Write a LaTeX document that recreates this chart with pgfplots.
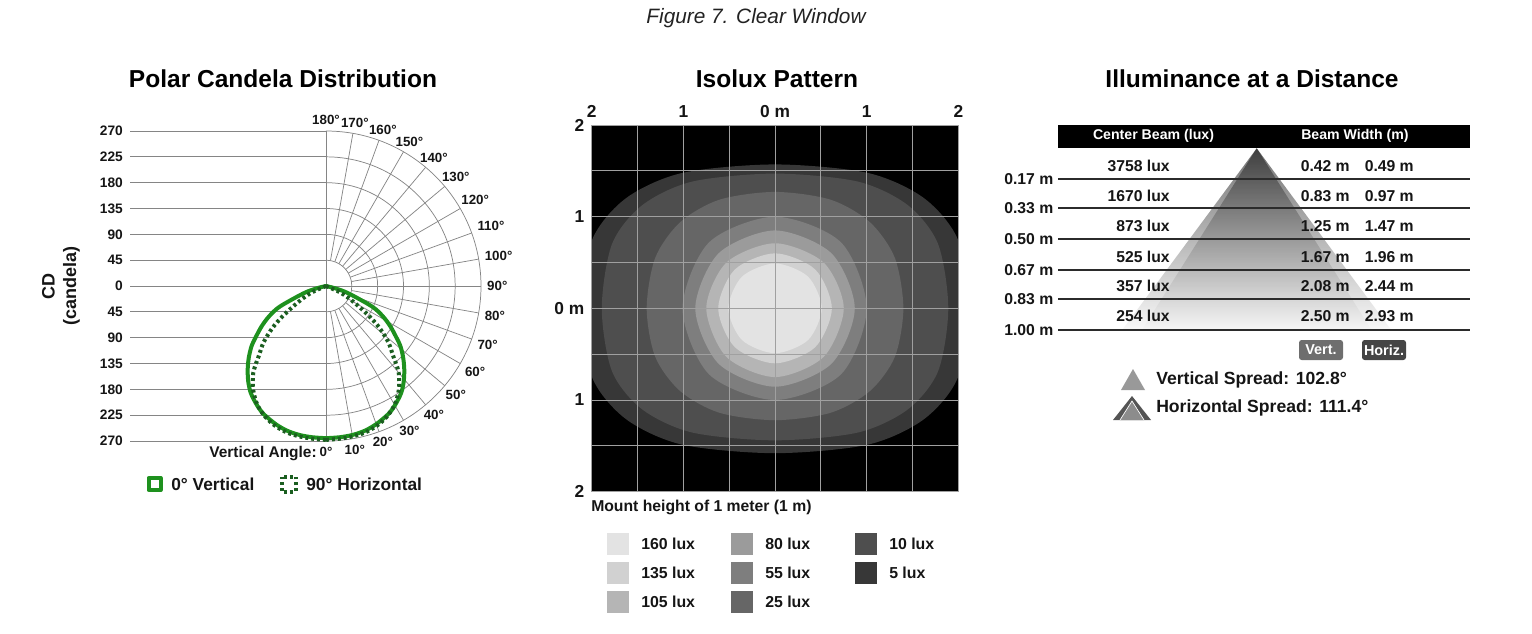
\documentclass[border=0pt]{standalone}
\usepackage{fontspec}
\setmainfont{Liberation Sans}
\usepackage{pgfplots}
\pgfplotsset{compat=1.18}
\usepackage{pgfplotstable}
\newcommand{\fsz}[1]{\fontsize{#1}{\fpeval{1.2*#1}}\selectfont}
\definecolor{ink}{HTML}{151515}
\definecolor{capc}{HTML}{222222}
\definecolor{pgridc}{HTML}{858585}
\definecolor{vgreen}{RGB}{30,145,30}
\definecolor{hgreen}{RGB}{27,94,32}
\definecolor{isogrid}{HTML}{A0A0A0}
\definecolor{c160}{HTML}{E3E3E3}
\definecolor{c135}{HTML}{D1D1D1}
\definecolor{c105}{HTML}{B5B5B5}
\definecolor{c80}{HTML}{9B9B9B}
\definecolor{c55}{HTML}{7E7E7E}
\definecolor{c25}{HTML}{666666}
\definecolor{c10}{HTML}{4E4E4E}
\definecolor{c5}{HTML}{373737}
\definecolor{tline}{HTML}{2B2B2B}

% candela vs angle from nadir (deg), mirrored on both sides
\pgfplotstableread{
t r
78 0
76 17
72 41
66 88
62 112
58 132
54 151
51 167
47 184
43 200
39 215
35 228
30 240
26 248
20 256
15 261
10 263.5
5 264.5
0 265
}\vertdata
\pgfplotstableread{
t r
70 0
66 25
62 45
58 68
55 93
52 118
48 146
44 168
40 197
35 221
30 239
25 251
20 259
15 264
10 266
5 267
0 268
}\horizdata

\tikzset{
  pgrid/.style={draw=pgridc,line width=0.55pt},
  vcurve/.style={draw=vgreen,line width=3pt,line cap=round,line join=round},
  hcurve/.style={draw=hgreen,line width=3pt,dash pattern=on 2.2pt off 2.2pt},
}

\begin{document}
\begin{tikzpicture}[x=0.75pt,y=0.75pt]
\useasboundingbox (0,0) rectangle (1532,-633);
\coordinate (polarNW) at (130.2,-131);
\coordinate (isoNW) at (591.7,-125);
\coordinate (illNW) at (1058,-148.3);

\node[font=\itshape\fsz{15.6},text=capc] at (756,-18) {Figure 7. Clear Window};
\node[font=\bfseries\fsz{18.4}] at (283,-79) {Polar Candela Distribution};
\node[font=\bfseries\fsz{18.4}] at (777,-79) {Isolux Pattern};
\node[font=\bfseries\fsz{18.4}] at (1252,-79) {Illuminance at a Distance};

% ---------------- polar candela ----------------
\begin{axis}[
  at={(polarNW)},anchor=north west,
  x=0.4306pt,y=0.4306pt,
  xmin=-341,xmax=300,ymin=-270,ymax=270,
  clip=false,
  axis line style={draw=none},tick style={draw=none},
  xtick=\empty,
  ytick={-270,-225,...,270},
  yticklabels={270,225,180,135,90,45,0,45,90,135,180,225,270},
  yticklabel style={font=\bfseries\fsz{10.3},text=ink,xshift=-2pt},
]
\pgfplotsinvokeforeach{-270,-225,...,270}{\draw[pgrid] (axis cs:-341,#1) -- (axis cs:0,#1);}
\draw[pgrid] (axis cs:0,0) -- (axis cs:270,0);
\draw[pgrid] (axis cs:0,-270) -- (axis cs:0,270);
\pgfplotsinvokeforeach{45,90,...,270}{\draw[pgrid] (axis cs:0,-#1) arc[start angle=-90,end angle=90,radius=#1*0.4306pt];}
\pgfplotsinvokeforeach{10,20,...,170}{\draw[pgrid] (axis cs:{45*cos(#1-90)},{45*sin(#1-90)}) -- (axis cs:{270*cos(#1-90)},{270*sin(#1-90)});}
\coordinate (pc) at (axis cs:0,0);
\addplot[vcurve,data cs=polar,smooth] table[x expr=\thisrow{t}-90,y=r] {\vertdata};
\addplot[vcurve,data cs=polar,smooth] table[x expr=-90-\thisrow{t},y=r] {\vertdata};
\addplot[hcurve,data cs=polar,smooth] table[x expr=\thisrow{t}-90,y=r] {\horizdata};
\addplot[hcurve,data cs=polar,smooth] table[x expr=-90-\thisrow{t},y=r] {\horizdata};
\end{axis}
\foreach \a in {0,10,...,180}{
  \pgfmathtruncatemacro\an{\a+90}
  \node[anchor=\an,inner sep=1pt,font=\bfseries\fsz{10},text=ink] at ([shift={(\a-90:119.7pt)}]pc) {\a°};
}
\node[anchor=base east,inner sep=0pt,font=\bfseries\fsz{11.6},text=ink] at (317,-457) {Vertical Angle:};
\node[rotate=90,align=center,font=\bfseries\fsz{13.5},text=ink] at (61,-286) {CD\\(candela)};
\draw[vcurve,line cap=butt] (148.5,-478) rectangle (160.5,-490);
\node[anchor=west,inner sep=0pt,font=\bfseries\fsz{13},text=ink] at (171,-484) {0° Vertical};
\draw[hcurve] (281.5,-476.5) rectangle (295.5,-491.5);
\node[anchor=west,inner sep=0pt,font=\bfseries\fsz{13},text=ink] at (306,-484) {90° Horizontal};

% ---------------- isolux ----------------
\begin{axis}[
  at={(isoNW)},anchor=north west,
  x=68.75pt,y=68.75pt,
  xmin=-2,xmax=2,ymin=-2,ymax=2,
  axis on top,
  axis background/.style={fill=black},
  axis line style={draw=isogrid,line width=0.6pt},
  xtick={-2,-1,0,1,2},xticklabels={2,1,0 m,1,2},xticklabel pos=upper,
  ytick={-2,-1,0,1,2},yticklabels={2,1,0 m,1,2},
  minor xtick={-1.5,-0.5,0.5,1.5},minor ytick={-1.5,-0.5,0.5,1.5},
  grid=both,
  major grid style={draw=isogrid,line width=0.6pt},
  minor grid style={draw=isogrid,line width=0.6pt},
  major tick length=0pt,minor tick length=0pt,
  ticklabel style={font=\bfseries\fsz{13},text=ink},
  xticklabel style={yshift=2pt},yticklabel style={xshift=-2pt},
]
\addplot[fill=c5,draw=none,smooth cycle] coordinates {
(2.12,0) (1.995,0.750) (1.624,1.203) (1.013,1.477) (0,1.57) (-1.013,1.477) (-1.624,1.203) (-1.995,0.750)
(-2.12,0) (-1.995,-0.755) (-1.624,-1.210) (-1.013,-1.487) (0,-1.58) (1.013,-1.487) (1.624,-1.210) (1.995,-0.755)};
\addplot[fill=c10,draw=none,smooth cycle] coordinates {
(1.89,0) (1.778,0.703) (1.448,1.126) (0.903,1.383) (0,1.47) (-0.903,1.383) (-1.448,1.126) (-1.778,0.703)
(-1.89,0) (-1.778,-0.688) (-1.448,-1.103) (-0.903,-1.355) (0,-1.44) (0.903,-1.355) (1.448,-1.103) (1.778,-0.688)};
\addplot[fill=c25,draw=none,smooth cycle] coordinates {
(1.40,0) (1.307,0.551) (1.036,0.939) (0.607,1.185) (0,1.27) (-0.607,1.185) (-1.036,0.939) (-1.307,0.551)
(-1.40,0) (-1.307,-0.529) (-1.036,-0.902) (-0.607,-1.139) (0,-1.22) (0.607,-1.139) (1.036,-0.902) (1.307,-0.529)};
\addplot[fill=c55,draw=none,smooth cycle] coordinates {
(1.0,0) (0.72,0.72) (0,1.0) (-0.72,0.72) (-1.01,0) (-0.72,-0.72) (0,-1.0) (0.72,-0.72)};
\addplot[fill=c80,draw=none,smooth cycle] coordinates {
(0.87,0) (0.615,0.601) (0,0.85) (-0.615,0.601) (-0.87,0) (-0.615,-0.605) (0,-0.855) (0.615,-0.605)};
\addplot[fill=c105,draw=none,smooth cycle] coordinates {
(0.75,0) (0.53,0.50) (0,0.71) (-0.53,0.50) (-0.75,0) (-0.53,-0.53) (0,-0.75) (0.53,-0.53)};
\addplot[fill=c135,draw=none,smooth cycle] coordinates {
(0.62,0) (0.438,0.424) (0,0.60) (-0.438,0.424) (-0.62,0) (-0.438,-0.424) (0,-0.60) (0.438,-0.424)};
\addplot[fill=c160,draw=none,smooth cycle] coordinates {
(0.51,0) (0.36,0.346) (0,0.49) (-0.36,0.346) (-0.51,0) (-0.36,-0.346) (0,-0.49) (0.36,-0.346)};
\end{axis}
\node[anchor=west,inner sep=0pt,font=\bfseries\fsz{11.8},text=ink] at (591,-507) {Mount height of 1 meter (1 m)};
\foreach \c/\t/\x/\y in {c160/160/607/544,c135/135/607/573,c105/105/607/602,
  c80/80/731/544,c55/55/731/573,c25/25/731/602,c10/10/855/544,c5/5/855/573}{
  \fill[\c] (\x,-\y+11) rectangle ++(22,-22);
  \node[anchor=west,inner sep=0pt,font=\bfseries\fsz{11.9},text=ink] at (\x+34,-\y) {\t\ lux};
}

% ---------------- illuminance at a distance ----------------
\begin{axis}[
  at={(illNW)},anchor=north west,
  x=69pt,y=136.5pt,
  xmin=-2.16,xmax=2.318,ymin=-1,ymax=0,
  clip=false,axis on top,
  axis line style={draw=none},tick style={draw=none},
  xtick=\empty,
  ytick={-1,-0.83,-0.67,-0.5,-0.33,-0.17},
  yticklabels={1.00 m,0.83 m,0.67 m,0.50 m,0.33 m,0.17 m},
  ymajorgrids,major grid style={draw=tline,line width=1.5pt},
  yticklabel style={font=\bfseries\fsz{11.8},text=ink},
]
\fill[black] (axis cs:-2.16,0) rectangle (axis cs:2.318,0.126);
\addplot[draw=none,top color=black!90,middle color=black!55,bottom color=black!4,fill opacity=0.6] coordinates {(0,0) (-1.465,-1) (1.465,-1)} --cycle;
\addplot[draw=none,top color=black!90,middle color=black!55,bottom color=black!4,fill opacity=0.6] coordinates {(0,0) (-1.25,-1) (1.25,-1)} --cycle;
\node[text=white,font=\bfseries\fsz{10.6}] at (axis cs:-1.122,0.066) {Center Beam (lux)};
\node[text=white,font=\bfseries\fsz{10.6}] at (axis cs:1.068,0.066) {Beam Width (m)};
\end{axis}
\foreach \yy/\l/\v/\h in {166/3758/0.42/0.49,196/1670/0.83/0.97,226/873/1.25/1.47,
  257/525/1.67/1.96,286/357/2.08/2.44,316/254/2.50/2.93}{
  \node[anchor=east,inner sep=0pt,font=\bfseries\fsz{11.8},text=ink] at (1170,-\yy) {\l\ lux};
  \node[anchor=east,inner sep=0pt,font=\bfseries\fsz{11.8},text=ink] at (1350,-\yy) {\v\ m};
  \node[anchor=east,inner sep=0pt,font=\bfseries\fsz{11.8},text=ink] at (1414,-\yy) {\h\ m};
}
\node[fill=black!57,text=white,rounded corners=2pt,minimum width=33pt,minimum height=15pt,inner sep=0pt,font=\bfseries\fsz{10.8}] at (1321,-350) {Vert.};
\node[fill=black!73,text=white,rounded corners=2pt,minimum width=33pt,minimum height=15pt,inner sep=0pt,font=\bfseries\fsz{10.8}] at (1384,-350) {Horiz.};
\fill[black!40] (1121,-390) -- (1133,-369) -- (1145,-390) -- cycle;
\fill[black!67] (1113,-420) -- (1132,-396) -- (1151,-420) -- cycle;
\filldraw[fill=black!45,draw=white,line width=0.5pt] (1120,-420) -- (1132,-401) -- (1144,-420);
\node[anchor=west,inner sep=0pt,font=\bfseries\fsz{13.2},text=ink] at (1156,-380) {Vertical Spread: 102.8°};
\node[anchor=west,inner sep=0pt,font=\bfseries\fsz{13.2},text=ink] at (1156,-408) {Horizontal Spread: 111.4°};
\end{tikzpicture}
\end{document}
